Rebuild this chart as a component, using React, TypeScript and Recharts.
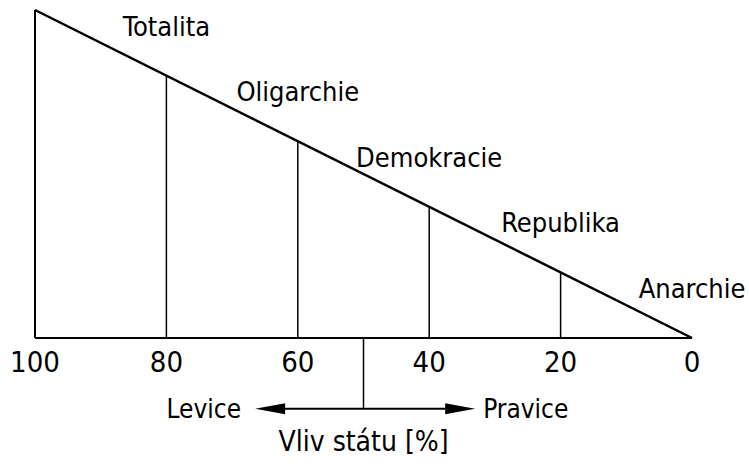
import { ComposedChart, Line, XAxis, YAxis, ReferenceLine, ReferenceDot } from "recharts";

// hypotenuse of the triangle: state influence (%) vs height
const slope = [
    { x: 100, y: 100 },
    { x: 0, y: 0 },
];
const xTicks = [0, 20, 40, 60, 80, 100];
const dividers = [80, 60, 40, 20];
const regimes = ["Totalita", "Oligarchie", "Demokracie", "Republika", "Anarchie"];
const regimeAt = [80, 60, 40, 20, 0];
const centre = 50;
const leftEnd = 66.5;
const rightEnd = 33;
const arrowLevel = -21.6;

const FONT = "'DejaVu Sans Condensed', 'DejaVu Sans', sans-serif";

const ArrowShape = (props: any) => {
    const { x1, y1, x2, y2 } = props;
    const len = 30;
    const hw = 5.5;
    return (
        <g>
            <line x1={x1 + len} y1={y1} x2={x2 - len} y2={y2} stroke="#000" strokeWidth={2} />
            <polygon points={`${x1},${y1} ${x1 + len},${y1 - hw} ${x1 + len},${y1 + hw}`} fill="#000" />
            <polygon points={`${x2},${y2} ${x2 - len},${y2 - hw} ${x2 - len},${y2 + hw}`} fill="#000" />
        </g>
    );
};

export default function App() {
    return (
        <div style={{ position: "absolute", left: 0, top: 0, background: "#fff" }}>
            <ComposedChart
                width={749}
                height={471}
                data={slope}
                margin={{ top: 10, right: 57, left: 35, bottom: 103 }}
            >
                <XAxis
                    dataKey="x"
                    type="number"
                    domain={[0, 100]}
                    ticks={xTicks}
                    reversed
                    height={30}
                    tickLine={false}
                    tickSize={0}
                    tickMargin={13}
                    axisLine={{ stroke: "#000", strokeWidth: 2 }}
                    tick={{ fill: "#000", fontSize: 29, fontFamily: FONT }}
                />
                <YAxis type="number" domain={[0, 100]} hide />
                <ReferenceLine
                    segment={[
                        { x: 100, y: 0 },
                        { x: 100, y: 100 },
                    ]}
                    stroke="#000"
                    strokeWidth={2}
                />
                {dividers.map((v) => (
                    <ReferenceLine
                        key={v}
                        segment={[
                            { x: v, y: 0 },
                            { x: v, y: v },
                        ]}
                        stroke="#000"
                        strokeWidth={1.5}
                    />
                ))}
                <Line
                    dataKey="y"
                    type="linear"
                    stroke="#000"
                    strokeWidth={2.5}
                    dot={false}
                    activeDot={false}
                    isAnimationActive={false}
                />
                {regimes.map((name, i) => (
                    <ReferenceDot
                        key={name}
                        x={regimeAt[i]}
                        y={regimeAt[i]}
                        r={0}
                        stroke="none"
                        fill="none"
                        ifOverflow="visible"
                        label={{
                            value: name,
                            position: "top",
                            offset: 40,
                            fill: "#000",
                            fontSize: 27,
                            fontFamily: FONT,
                        }}
                    />
                ))}
                <ReferenceLine
                    segment={[
                        { x: centre, y: 0 },
                        { x: centre, y: arrowLevel },
                    ]}
                    stroke="#000"
                    strokeWidth={1.5}
                    ifOverflow="visible"
                />
                <ReferenceLine
                    segment={[
                        { x: leftEnd, y: arrowLevel },
                        { x: rightEnd, y: arrowLevel },
                    ]}
                    ifOverflow="visible"
                    shape={ArrowShape}
                />
                <ReferenceDot
                    x={leftEnd}
                    y={arrowLevel}
                    r={0}
                    stroke="none"
                    fill="none"
                    ifOverflow="visible"
                    label={{ value: "Levice", position: "left", offset: 14, fill: "#000", fontSize: 26, fontFamily: FONT }}
                />
                <ReferenceDot
                    x={rightEnd}
                    y={arrowLevel}
                    r={0}
                    stroke="none"
                    fill="none"
                    ifOverflow="visible"
                    label={{ value: "Pravice", position: "right", offset: 8, fill: "#000", fontSize: 26, fontFamily: FONT }}
                />
                <ReferenceDot
                    x={centre}
                    y={arrowLevel}
                    r={0}
                    stroke="none"
                    fill="none"
                    ifOverflow="visible"
                    label={{ value: "Vliv státu [%]", position: "bottom", offset: 22, fill: "#000", fontSize: 28, fontFamily: FONT }}
                />
            </ComposedChart>
        </div>
    );
}
